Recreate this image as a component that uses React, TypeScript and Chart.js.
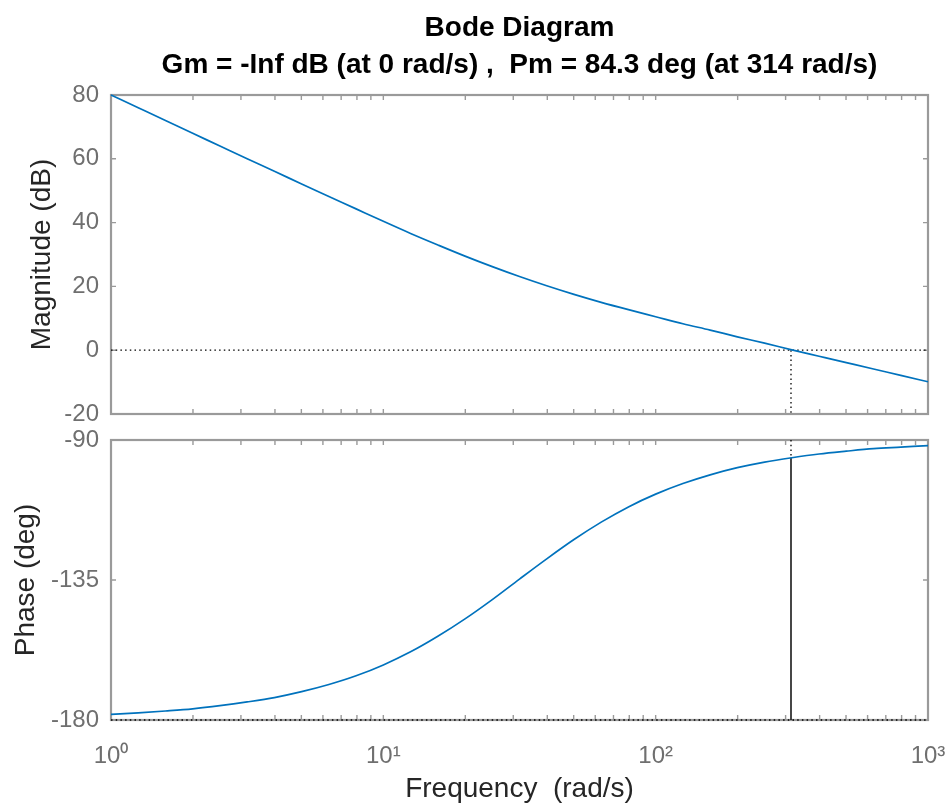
import React, { useEffect, useRef } from 'react';
import { Chart, registerables } from 'chart.js';

Chart.register(...registerables);

// ---------- data ----------
const FREQ = [1, 1.259, 1.585, 1.995, 2.512, 3.162, 3.981, 5.012, 6.31, 7.943, 10, 12.59, 15.85, 19.95, 25.12, 31.62, 39.81, 50.12, 63.1, 79.43, 100, 125.9, 158.5, 199.5, 251.2, 316.2, 398.1, 501.2, 631, 794.3, 1000];
const MAG_DB = [80.0, 76.0, 72.0, 68.0, 64.0, 60.0, 56.1, 52.1, 48.2, 44.3, 40.4, 36.6, 33.0, 29.5, 26.2, 23.1, 20.2, 17.5, 15.0, 12.7, 10.5, 8.3, 6.3, 4.2, 2.2, 0.1, -1.9, -3.9, -5.9, -7.9, -9.9];
const PHASE_DEG = [-178.2, -177.7, -177.1, -176.4, -175.4, -174.2, -172.8, -170.9, -168.6, -165.8, -162.3, -158.1, -153.1, -147.5, -141.3, -134.7, -128.2, -122.0, -116.4, -111.5, -107.4, -104.0, -101.2, -98.9, -97.1, -95.7, -94.5, -93.6, -92.8, -92.3, -91.8];

const MAG_TICKS = [-20, 0, 20, 40, 60, 80];
const PHASE_TICKS = [-180, -135, -90];
const FREQ_TICKS = [1, 10, 100, 1000];
const FREQ_TICK_LABELS = ['10\u2070', '10\u00B9', '10\u00B2', '10\u00B3'];
const FREQ_MINOR_MULT = [2, 3, 4, 5, 6, 7, 8, 9];
const FREQ_DECADES = [1, 10, 100];

const CROSSOVER_FREQ = 314; // rad/s
const PM_PHASE = -95.7; // deg at crossover (-180 + 84.3)
const MAG_RANGE = [-20, 80];
const PHASE_RANGE = [-180, -90];
const FREQ_RANGE = [1, 1000];

const TITLE_LINES = ['Bode Diagram', 'Gm = -Inf dB (at 0 rad/s) ,  Pm = 84.3 deg (at 314 rad/s)'];
const MAG_LABEL = 'Magnitude (dB)';
const PHASE_LABEL = 'Phase (deg)';
const FREQ_LABEL = 'Frequency  (rad/s)';

// ---------- styles ----------
const FONT = '"Liberation Sans", Arial, Helvetica, sans-serif';
const CURVE_COLOR = '#0072BD';
const AXIS_COLOR = '#9a9a9a';
const TICK_LABEL_COLOR = '#6f6f6f';
const LABEL_COLOR = '#262626';

const W = 952;
const TOP_H = 427;
const BOT_H = 380;

const zeroPad = (s: any) => {
  s.paddingTop = 0;
  s.paddingBottom = 0;
  s.paddingLeft = 0;
  s.paddingRight = 0;
};

// MATLAB-style box with inward ticks, drawn beneath the data lines
const framePlugin = {
  id: 'matlabFrame',
  beforeDatasetsDraw(chart: any, _args: any, opts: any) {
    const { ctx, chartArea: a, scales } = chart;
    const xs = scales.x;
    const ys = scales.y;
    const T = 5;
    ctx.save();
    ctx.strokeStyle = AXIS_COLOR;
    ctx.lineWidth = 1.4;
    ctx.beginPath();
    const xVals: number[] = [...FREQ_TICKS];
    FREQ_DECADES.forEach((d) => FREQ_MINOR_MULT.forEach((m) => xVals.push(d * m)));
    xVals.forEach((v) => {
      const px = xs.getPixelForValue(v);
      if (px <= a.left + 1 || px >= a.right - 1) return;
      ctx.moveTo(px, a.bottom);
      ctx.lineTo(px, a.bottom - T);
      ctx.moveTo(px, a.top);
      ctx.lineTo(px, a.top + T);
    });
    (opts.yTicks || []).forEach((v: number) => {
      const py = ys.getPixelForValue(v);
      if (py <= a.top + 1 || py >= a.bottom - 1) return;
      ctx.moveTo(a.left, py);
      ctx.lineTo(a.left + T, py);
      ctx.moveTo(a.right, py);
      ctx.lineTo(a.right - T, py);
    });
    ctx.stroke();
    ctx.lineWidth = 2.2;
    ctx.strokeRect(a.left, a.top, a.right - a.left, a.bottom - a.top);
    ctx.restore();
  },
};

const titlePlugin = {
  id: 'bodeTitle',
  afterDraw(chart: any) {
    const { ctx, chartArea: a } = chart;
    const cx = (a.left + a.right) / 2;
    ctx.save();
    ctx.fillStyle = '#000';
    ctx.font = `bold 28px ${FONT}`;
    ctx.textAlign = 'center';
    ctx.textBaseline = 'middle';
    ctx.fillText(TITLE_LINES[0], cx, 28);
    ctx.fillText(TITLE_LINES[1], cx, 65);
    ctx.restore();
  },
};

const lineDs = (data: any[], color: string, width: number, dash: number[] = []) => ({
  data,
  borderColor: color,
  borderWidth: width,
  borderDash: dash,
  pointRadius: 0,
  fill: false,
  tension: 0,
  clip: false as any,
});

const yScale = (range: number[], ticks: number[], label: string, titlePad: number) => ({
  type: 'linear' as const,
  min: range[0],
  max: range[1],
  afterBuildTicks: (s: any) => {
    s.ticks = ticks.map((v) => ({ value: v }));
  },
  ticks: {
    callback: (v: any) => String(v),
    font: { family: FONT, size: 24 },
    color: TICK_LABEL_COLOR,
    padding: 12,
  },
  grid: { display: false, drawTicks: false },
  border: { display: false },
  title: {
    display: true,
    text: label,
    font: { family: FONT, size: 28 },
    color: LABEL_COLOR,
    padding: { top: titlePad, bottom: 0 },
  },
  afterFit: (s: any) => {
    s.width = 111;
    zeroPad(s);
  },
});

export default function App() {
  const topRef = useRef<HTMLCanvasElement>(null);
  const botRef = useRef<HTMLCanvasElement>(null);

  useEffect(() => {
    const magPts = FREQ.map((f, i) => ({ x: f, y: MAG_DB[i] }));
    const phPts = FREQ.map((f, i) => ({ x: f, y: PHASE_DEG[i] }));

    const top = new Chart(topRef.current as HTMLCanvasElement, {
      type: 'line',
      data: {
        datasets: [
          { ...lineDs(magPts, CURVE_COLOR, 1.7), cubicInterpolationMode: 'monotone' } as any,
          lineDs([{ x: FREQ_RANGE[0], y: 0 }, { x: FREQ_RANGE[1], y: 0 }], '#000', 1.3, [1.5, 3.2]),
          lineDs([{ x: CROSSOVER_FREQ, y: 0 }, { x: CROSSOVER_FREQ, y: MAG_RANGE[0] }], '#000', 1.3, [1.5, 3.2]),
        ],
      },
      options: {
        responsive: false,
        animation: false,
        events: [],
        layout: { padding: { top: 95, right: 24, bottom: 13, left: 0 } },
        plugins: {
          legend: { display: false },
          tooltip: { enabled: false },
          title: { display: false },
          matlabFrame: { yTicks: MAG_TICKS },
        } as any,
        scales: {
          x: { type: 'logarithmic', min: FREQ_RANGE[0], max: FREQ_RANGE[1], display: false },
          y: yScale(MAG_RANGE, MAG_TICKS, MAG_LABEL, 25) as any,
        },
      },
      plugins: [framePlugin, titlePlugin],
    });

    const bot = new Chart(botRef.current as HTMLCanvasElement, {
      type: 'line',
      data: {
        datasets: [
          { ...lineDs(phPts, CURVE_COLOR, 1.7), cubicInterpolationMode: 'monotone' } as any,
          lineDs([{ x: FREQ_RANGE[0], y: PHASE_RANGE[0] }, { x: FREQ_RANGE[1], y: PHASE_RANGE[0] }], '#000', 1.3, [1.5, 3.2]),
          lineDs([{ x: CROSSOVER_FREQ, y: PHASE_RANGE[1] }, { x: CROSSOVER_FREQ, y: PM_PHASE }], '#000', 1.3, [1.5, 3.2]),
          lineDs([{ x: CROSSOVER_FREQ, y: PM_PHASE }, { x: CROSSOVER_FREQ, y: PHASE_RANGE[0] }], '#1a1a1a', 1.6),
        ],
      },
      options: {
        responsive: false,
        animation: false,
        events: [],
        layout: { padding: { top: 13, right: 24, bottom: 0, left: 0 } },
        plugins: {
          legend: { display: false },
          tooltip: { enabled: false },
          title: { display: false },
          matlabFrame: { yTicks: PHASE_TICKS },
        } as any,
        scales: {
          x: {
            type: 'logarithmic',
            min: FREQ_RANGE[0],
            max: FREQ_RANGE[1],
            afterBuildTicks: (s: any) => {
              s.ticks = FREQ_TICKS.map((v) => ({ value: v }));
            },
            ticks: {
              callback: (_v: any, i: number) => FREQ_TICK_LABELS[i],
              font: { family: FONT, size: 24 },
              color: TICK_LABEL_COLOR,
              padding: 22,
              autoSkip: false,
              maxRotation: 0,
              minRotation: 0,
            },
            grid: { display: false, drawTicks: false },
            border: { display: false },
            title: {
              display: true,
              text: FREQ_LABEL,
              font: { family: FONT, size: 28 },
              color: LABEL_COLOR,
              padding: { top: 0, bottom: 1 },
            },
            afterFit: (s: any) => {
              s.height = 87;
              zeroPad(s);
            },
          } as any,
          y: yScale(PHASE_RANGE, PHASE_TICKS, PHASE_LABEL, 9) as any,
        },
      },
      plugins: [framePlugin],
    });

    return () => {
      top.destroy();
      bot.destroy();
    };
  }, []);

  return (
    <div style={{ position: 'fixed', left: 0, top: 0, width: W, height: TOP_H + BOT_H, background: '#fff' }}>
      <canvas
        ref={topRef}
        width={W}
        height={TOP_H}
        style={{ position: 'absolute', left: 0, top: 0, width: W, height: TOP_H }}
      />
      <canvas
        ref={botRef}
        width={W}
        height={BOT_H}
        style={{ position: 'absolute', left: 0, top: TOP_H, width: W, height: BOT_H }}
      />
    </div>
  );
}
